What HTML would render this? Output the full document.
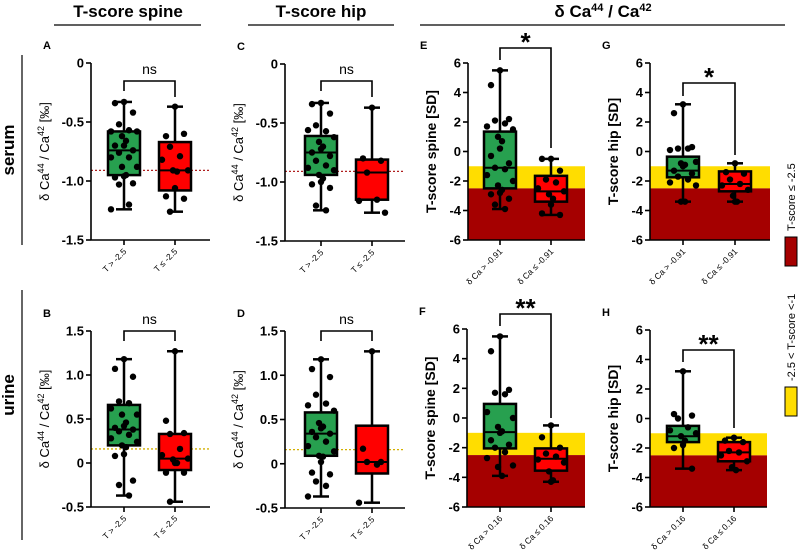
<!DOCTYPE html>
<html><head><meta charset="utf-8"><style>
body{margin:0;background:#fff;}
svg{display:block;font-family:"Liberation Sans",Arial,sans-serif;}
</style></head><body>
<svg id="fig" width="800" height="552" viewBox="0 0 800 552">
<g>
<text x="128" y="17" text-anchor="middle" font-size="17" font-weight="bold">T-score spine</text>
<line x1="54" y1="25" x2="201" y2="25" stroke="#000" stroke-width="1.2"/>
<text x="321" y="17" text-anchor="middle" font-size="17" font-weight="bold">T-score hip</text>
<line x1="248" y1="25" x2="394" y2="25" stroke="#000" stroke-width="1.2"/>
<text x="603" y="17" text-anchor="middle" font-size="17" font-weight="bold">δ Ca<tspan dy="-6" font-size="11">44</tspan><tspan dy="6"> / Ca</tspan><tspan dy="-6" font-size="11">42</tspan></text>
<line x1="420" y1="25" x2="785" y2="25" stroke="#000" stroke-width="1.2"/>
</g>
<g>
<text transform="translate(14,150) rotate(-90)" text-anchor="middle" font-size="17" font-weight="bold">serum</text>
<line x1="22" y1="55" x2="22" y2="245" stroke="#000" stroke-width="1.2"/>
<text transform="translate(14,395) rotate(-90)" text-anchor="middle" font-size="17" font-weight="bold">urine</text>
<line x1="22" y1="290" x2="22" y2="540" stroke="#000" stroke-width="1.2"/>
</g>
<g>
<rect x="785" y="237" width="12" height="29" fill="#a50000" stroke="#000" stroke-width="1"/>
<text transform="translate(795,231) rotate(-90)" text-anchor="start" font-size="11">T-score ≤ -2.5</text>
<rect x="785" y="387" width="12" height="29" fill="#ffdd00" stroke="#000" stroke-width="1"/>
<text transform="translate(795,381) rotate(-90)" text-anchor="start" font-size="11">-2.5 &lt; T-score &lt;-1</text>
</g>
</svg>
<script>
// ---- data ----
const groupNames = ["green", "red"];
const ticksSerum = [0, -0.5, -1.0, -1.5];
const tickLabelsSerum = ["0", "-0.5", "-1.0", "-1.5"];
const ticksUrine = [1.5, 1.0, 0.5, 0, -0.5];
const tickLabelsUrine = ["1.5", "1.0", "0.5", "0", "-0.5"];
const ticksT = [6, 4, 2, 0, -2, -4, -6];
const tickLabelsT = ["6", "4", "2", "0", "-2", "-4", "-6"];

const statsA = [[-1.24, -0.95, -0.74, -0.58, -0.33], [-1.26, -1.08, -0.91, -0.67, -0.37]];
const ptsA_g = [-0.33,-0.34,-0.42,-0.52,-0.57,-0.58,-0.58,-0.62,-0.66,-0.70,-0.70,-0.74,-0.76,-0.80,-0.80,-0.88,-0.88,-0.95,-0.96,-0.97,-1.02,-1.03,-1.20,-1.24];
const ptsA_r = [-0.37,-0.62,-0.60,-0.71,-0.79,-0.82,-0.91,-0.91,-0.92,-1.06,-1.13,-1.15,-1.26];
const statsC = [[-1.24, -0.94, -0.75, -0.61, -0.33], [-1.26, -1.15, -0.92, -0.81, -0.37]];
const ptsC_g = [-0.33,-0.34,-0.42,-0.52,-0.57,-0.56,-0.62,-0.66,-0.70,-0.72,-0.75,-0.78,-0.82,-0.86,-0.88,-0.90,-0.94,-0.97,-1.00,-1.02,-1.05,-1.20,-1.24];
const ptsC_r = [-0.37,-0.80,-0.82,-0.92,-1.15,-1.16,-1.26];
const statsB = [[-0.37, 0.20, 0.38, 0.66, 1.18], [-0.44, -0.08, 0.05, 0.33, 1.27]];
const ptsB_g = [1.18,1.07,0.98,0.70,0.68,0.62,0.55,0.55,0.46,0.42,0.40,0.38,0.36,0.32,0.28,0.24,0.20,0.18,0.10,0.08,-0.20,-0.25,-0.37];
const ptsB_r = [1.27,0.48,0.34,0.33,0.16,0.09,0.05,0.04,0.0,0.0,-0.11,-0.11,-0.44];
const statsD = [[-0.37, 0.09, 0.34, 0.58, 1.18], [-0.44, -0.11, 0.02, 0.43, 1.27]];
const ptsD_g = [1.18,1.07,0.98,0.78,0.68,0.66,0.60,0.46,0.42,0.40,0.36,0.34,0.30,0.25,0.20,0.14,0.09,0.08,0.02,-0.10,-0.12,-0.20,-0.25,-0.37];
const ptsD_r = [1.27,0.17,0.02,0.02,-0.01,-0.44];
const statsE = [[-3.9, -2.5, -1.1, 1.35, 5.5], [-4.3, -3.4, -2.7, -1.65, -0.5]];
const ptsE_g = [5.5,4.5,2.2,2.1,1.9,1.7,1.5,1.0,0.7,0.2,-0.3,-0.8,-1.1,-1.2,-1.6,-2.0,-2.3,-2.6,-2.8,-2.9,-3.2,-3.6,-3.9];
const ptsE_r = [-0.5,-0.5,-1.3,-1.9,-2.1,-2.5,-2.7,-2.9,-3.2,-3.6,-4.2,-4.3];
const statsG = [[-3.4, -1.75, -1.3, -0.35, 3.2], [-3.4, -2.7, -2.2, -1.35, -0.8]];
const ptsG_g = [3.2,2.6,0.3,0.2,0.2,0.1,-0.7,-0.8,-0.9,-1.0,-1.3,-1.5,-1.7,-1.9,-2.1,-2.3,-3.4,-3.4];
const ptsG_r = [-0.8,-1.4,-1.5,-1.9,-2.2,-2.3,-2.6,-3.0,-3.4,-3.4];
const statsF = [[-3.9, -2.05, -0.95, 0.95, 5.5], [-4.3, -3.55, -2.75, -2.05, -0.5]];
const ptsF_g = [5.5,4.5,1.9,1.7,1.6,0.4,0.0,-0.6,-0.9,-1.0,-1.5,-1.8,-2.0,-2.3,-2.7,-3.2,-3.3,-3.9];
const ptsF_r = [-0.5,-1.3,-2.0,-2.4,-2.6,-2.8,-3.0,-3.6,-4.2,-4.3];
const statsH = [[-3.4, -1.6, -1.2, -0.5, 3.2], [-3.5, -2.9, -2.3, -1.6, -1.3]];
const ptsH_g = [3.2,0.3,0.2,0.0,-0.6,-0.8,-1.0,-1.2,-1.5,-1.8,-2.0,-3.4];
const ptsH_r = [-1.3,-1.5,-1.6,-2.2,-2.3,-2.5,-2.9,-3.3,-3.5];
const bandOsteopenia = [-1, -2.5];
const bandOsteoporosis = [-2.5, -6];
const refSerum = -0.91;
const refUrine = 0.16;
const xLabelsT = ["T > -2.5", "T ≤ -2.5"];
const xLabelsSerum = ["δ Ca > -0.91", "δ Ca ≤ -0.91"];
const xLabelsUrine = ["δ Ca > 0.16", "δ Ca ≤ 0.16"];

const NS = "http://www.w3.org/2000/svg";
const svg = document.getElementById("fig");
function mk(tag, attrs, parent){ const e=document.createElementNS(NS,tag); for(const k in attrs) e.setAttribute(k,attrs[k]); (parent||svg).appendChild(e); return e; }

function panel(p){
  const g = mk("g",{});
  
  
  const vmax=p.ticks[0], vmin=p.ticks[p.ticks.length-1];
  const y = v => p.top + (vmax - v)/(vmax - vmin)*(p.bot - p.top);
  const cx = i => p.c0 + i*p.dx;
  if(p.bands){
    const b1=mk("rect",{x:p.ax,y:y(bandOsteopenia[0]),width:p.end-p.ax,height:y(bandOsteopenia[1])-y(bandOsteopenia[0]),fill:"#ffdd00"},g);
    
    
    const b2=mk("rect",{x:p.ax,y:y(bandOsteoporosis[0]),width:p.end-p.ax,height:y(bandOsteoporosis[1])-y(bandOsteoporosis[0]),fill:"#a50000"},g);
    
    
  }
  if(p.ref!==undefined){
    const rl=mk("line",{x1:p.ax,x2:p.end,y1:y(p.ref),y2:y(p.ref),stroke:p.refColor,"stroke-width":1.3,"stroke-dasharray":"2,2"},g);
    
    
  }
  const fills=["#27a04f","#ff0000"];
  p.stats.forEach((s,i)=>{
    const c=cx(i), w=32, cap=16;
    const bg=mk("g",{},g);
    
    
    mk("line",{x1:c,x2:c,y1:y(s[0]),y2:y(s[4]),stroke:"#000","stroke-width":2.5},bg);
    mk("line",{x1:c-cap/2,x2:c+cap/2,y1:y(s[0]),y2:y(s[0]),stroke:"#000","stroke-width":2.5},bg);
    mk("line",{x1:c-cap/2,x2:c+cap/2,y1:y(s[4]),y2:y(s[4]),stroke:"#000","stroke-width":2.5},bg);
    mk("rect",{x:c-w/2,y:y(s[3]),width:w,height:y(s[1])-y(s[3]),fill:fills[i],stroke:"#000","stroke-width":2.5},bg);
    mk("line",{x1:c-w/2,x2:c+w/2,y1:y(s[2]),y2:y(s[2]),stroke:"#000","stroke-width":2},bg);
    const pts=p.pts[i];
    const offs=[0,-9,9,-5,5,-13,13,-2,2];
    pts.forEach((v,k)=>{
      const d=mk("circle",{cx:c+offs[k%offs.length],cy:y(v),r:3.2,fill:"#000"},bg);
      
      
    });
  });
  const ax=mk("g",{},g);
  
  
  mk("line",{x1:p.ax,x2:p.ax,y1:p.top,y2:p.bot,stroke:"#000","stroke-width":1.6},ax);
  p.ticks.forEach((t,k)=>{
    mk("line",{x1:p.ax-5,x2:p.ax,y1:y(t),y2:y(t),stroke:"#000","stroke-width":1.6},ax);
    const tl=mk("text",{x:p.ax-7,y:y(t)+4.5,"text-anchor":"end","font-size":13,"font-weight":"bold"},ax);
    tl.textContent=p.tickLabels[k];
    
    
  });
  const xa=mk("g",{},g);
  
  
  mk("line",{x1:p.ax,x2:p.end,y1:p.bot,y2:p.bot,stroke:"#000","stroke-width":1.6},xa);
  p.xlabels.forEach((l,i)=>{
    mk("line",{x1:cx(i),x2:cx(i),y1:p.bot,y2:p.bot+5,stroke:"#000","stroke-width":1.6},xa);
    const t=mk("text",{transform:`translate(${cx(i)+3},${p.bot+12}) rotate(-45)`,"text-anchor":"end","font-size":8.5},xa);
    t.textContent=l;
    
    
  });
  const yl=mk("text",{transform:`translate(${p.ax-p.ylOff},${(p.top+p.bot)/2}) rotate(-90)`,"text-anchor":"middle","font-size":p.ylSize,"font-weight":p.ylBold?"bold":"normal"},g);
  
  
  if(p.ylDelta){ yl.innerHTML='δ Ca<tspan dy="-5" font-size="9">44</tspan><tspan dy="5"> / Ca</tspan><tspan dy="-5" font-size="9">42</tspan><tspan dy="5"> [‰]</tspan>'; }
  else yl.textContent=p.ylabel;
  const L=mk("text",{x:p.ax-48,y:p.top-14,"font-size":11,"font-weight":"bold"},g);
  L.textContent=p.letter;
  
  
  const sg=mk("g",{},g);
  
  
  mk("polyline",{points:`${cx(0)},${p.brL} ${cx(0)},${p.brY} ${cx(1)},${p.brY} ${cx(1)},${p.brR}`,fill:"none",stroke:"#000","stroke-width":1.6},sg);
  const st=mk("text",{x:(cx(0)+cx(1))/2,y:p.brY-(p.sig==="ns"?7:-3),"text-anchor":"middle","font-size":p.sig==="ns"?14:26,"font-weight":p.sig==="ns"?"normal":"bold"},sg);
  st.textContent=p.sig;
}

panel({letter:"A",ax:91,end:210,c0:124,dx:51,top:63,bot:240,ticks:ticksSerum,tickLabels:tickLabelsSerum,stats:statsA,pts:[ptsA_g,ptsA_r],ref:refSerum,refColor:"#b02020",xlabels:xLabelsT,ylDelta:true,ylOff:42,ylSize:13,brY:81,brL:91,brR:97,sig:"ns"});
panel({letter:"C",ax:285,end:405,c0:321,dx:51,top:64,bot:241,ticks:ticksSerum,tickLabels:tickLabelsSerum,stats:statsC,pts:[ptsC_g,ptsC_r],ref:refSerum,refColor:"#b02020",xlabels:xLabelsT,ylDelta:true,ylOff:42,ylSize:13,brY:81,brL:91,brR:97,sig:"ns"});
panel({letter:"B",ax:91,end:210,c0:124,dx:51,top:331,bot:507,ticks:ticksUrine,tickLabels:tickLabelsUrine,stats:statsB,pts:[ptsB_g,ptsB_r],ref:refUrine,refColor:"#d4b000",xlabels:xLabelsT,ylDelta:true,ylOff:42,ylSize:13,brY:331,brL:341,brR:341,sig:"ns"});
panel({letter:"D",ax:285,end:405,c0:321,dx:51,top:331,bot:508,ticks:ticksUrine,tickLabels:tickLabelsUrine,stats:statsD,pts:[ptsD_g,ptsD_r],ref:refUrine,refColor:"#d4b000",xlabels:xLabelsT,ylDelta:true,ylOff:42,ylSize:13,brY:331,brL:341,brR:341,sig:"ns"});
panel({letter:"E",ax:468,end:585,c0:500,dx:51,top:63,bot:240,ticks:ticksT,tickLabels:tickLabelsT,stats:statsE,pts:[ptsE_g,ptsE_r],bands:true,xlabels:xLabelsSerum,ylabel:"T-score spine [SD]",ylBold:true,ylOff:32,ylSize:14,brY:48,brL:60,brR:148,sig:"*"});
panel({letter:"G",ax:650,end:770,c0:683,dx:52,top:63,bot:240,ticks:ticksT,tickLabels:tickLabelsT,stats:statsG,pts:[ptsG_g,ptsG_r],bands:true,xlabels:xLabelsSerum,ylabel:"T-score hip [SD]",ylBold:true,ylOff:32,ylSize:14,brY:83,brL:96,brR:155,sig:"*"});
panel({letter:"F",ax:467,end:585,c0:500,dx:51,top:329,bot:507,ticks:ticksT,tickLabels:tickLabelsT,stats:statsF,pts:[ptsF_g,ptsF_r],bands:true,xlabels:xLabelsUrine,ylabel:"T-score spine [SD]",ylBold:true,ylOff:32,ylSize:14,brY:314,brL:326,brR:418,sig:"**"});
panel({letter:"H",ax:650,end:767,c0:683,dx:51,top:330,bot:507,ticks:ticksT,tickLabels:tickLabelsT,stats:statsH,pts:[ptsH_g,ptsH_r],bands:true,xlabels:xLabelsUrine,ylabel:"T-score hip [SD]",ylBold:true,ylOff:32,ylSize:14,brY:350,brL:362,brR:428,sig:"**"});
</script>
</body></html>
